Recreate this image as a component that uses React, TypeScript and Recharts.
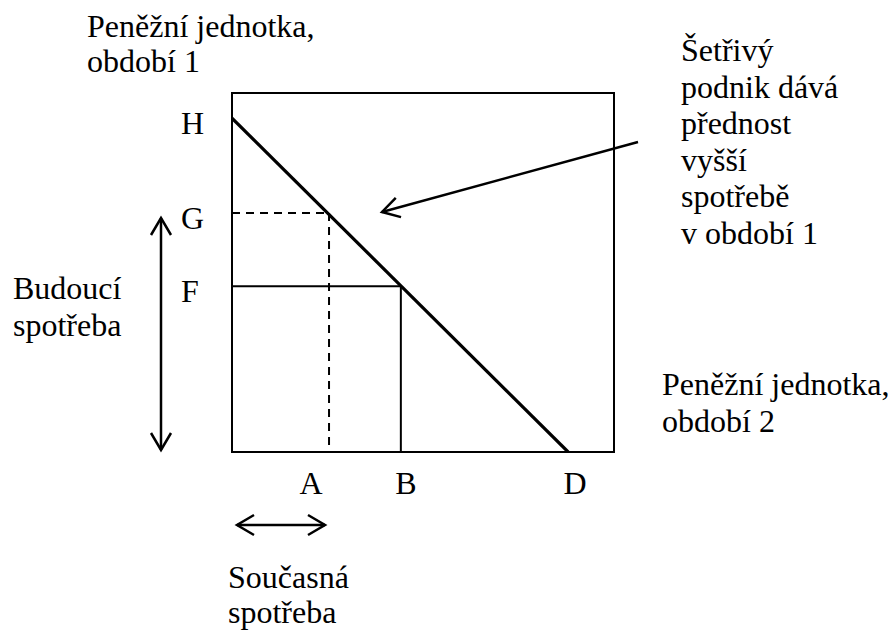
import { ComposedChart, XAxis, YAxis, ReferenceArea, ReferenceLine, Line } from "recharts";

// budget line from H (y axis) to D (x axis), in money units
const budgetLine = [
  { x: 0, y: 93 },
  { x: 88, y: 0 },
];

// x-axis points A, B, D and y-axis points F, G, H
const xPoints = [25.4, 44.2, 88];
const xLabels = ["A", "B", "D"];
const yPoints = [46.2, 66.6, 93];
const yLabels = ["F", "G", "H"];

// the two consumption choices: dashed (A, G) and solid (B, F)
const dashedChoice = { x: xPoints[0], y: yPoints[1] };
const solidChoice = { x: xPoints[1], y: yPoints[0] };

const FONT = '"Liberation Serif", "Times New Roman", serif';
const FS = 32;

const xLabelShift: Record<string, number> = { A: -18, B: 5, D: 7 };

const XTick = (props: any) => {
  const { x, payload } = props;
  const i = xPoints.indexOf(payload.value);
  const label = xLabels[i] ?? "";
  return (
    <text x={x + (xLabelShift[label] ?? 0)} y={494} textAnchor="middle" style={{ fontFamily: FONT }} fontSize={FS} fill="#000">
      {label}
    </text>
  );
};

const YTick = (props: any) => {
  const { y, payload } = props;
  const i = yPoints.indexOf(payload.value);
  return (
    <text x={181} y={y + 16} textAnchor="start" style={{ fontFamily: FONT }} fontSize={FS} fill="#000">
      {yLabels[i] ?? ""}
    </text>
  );
};

const Lines = ({ x, y, lines, lh = 36.5 }: { x: number; y: number; lines: string[]; lh?: number }) => (
  <text x={x} y={y} style={{ fontFamily: FONT }} fontSize={FS} fill="#000">
    {lines.map((l, i) => (
      <tspan key={i} x={x} y={y + i * lh}>
        {l}
      </tspan>
    ))}
  </text>
);

const Chevron = ({ tip, dir }: { tip: [number, number]; dir: [number, number] }) => {
  // dir: unit vector pointing from tail to tip
  const [tx, ty] = tip;
  const [dx, dy] = dir;
  const len = 17;
  const w = 10;
  const bx = tx - dx * len;
  const by = ty - dy * len;
  const px = -dy;
  const py = dx;
  return (
    <polyline
      points={`${bx + px * w},${by + py * w} ${tx},${ty} ${bx - px * w},${by - py * w}`}
      fill="none"
      stroke="#000"
      strokeWidth={2.5}
    />
  );
};

export default function App() {
  const ax = 638, ay = 142, hx = 382, hy = 212;
  const al = Math.hypot(hx - ax, hy - ay);
  const adir: [number, number] = [(hx - ax) / al, (hy - ay) / al];

  return (
    <div style={{ position: "absolute", left: 0, top: 0, width: 888, height: 630, background: "#fff" }}>
      <ComposedChart
        width={888}
        height={630}
        data={budgetLine}
        margin={{ top: 93, right: 274, bottom: 128, left: 172 }}
      >
        <XAxis
          type="number"
          dataKey="x"
          domain={[0, 100]}
          ticks={xPoints}
          axisLine={false}
          tickLine={false}
          height={50}
          tick={<XTick />}
          interval={0}
          allowDataOverflow
        />
        <YAxis
          type="number"
          dataKey="y"
          domain={[0, 100]}
          ticks={yPoints}
          axisLine={false}
          tickLine={false}
          width={60}
          tick={<YTick />}
          interval={0}
          allowDataOverflow
        />
        <ReferenceArea x1={0} x2={100} y1={0} y2={100} fill="none" fillOpacity={0} stroke="#000" strokeWidth={2} strokeOpacity={1} ifOverflow="visible" />
        <ReferenceLine
          segment={[{ x: 0, y: dashedChoice.y }, dashedChoice]}
          stroke="#000"
          strokeWidth={2}
          strokeDasharray="8 6"
        />
        <ReferenceLine
          segment={[dashedChoice, { x: dashedChoice.x, y: 0 }]}
          stroke="#000"
          strokeWidth={2}
          strokeDasharray="8 6"
        />
        <ReferenceLine segment={[{ x: 0, y: solidChoice.y }, solidChoice]} stroke="#000" strokeWidth={2} />
        <ReferenceLine segment={[solidChoice, { x: solidChoice.x, y: 0 }]} stroke="#000" strokeWidth={2} />
        <Line
          type="linear"
          dataKey="y"
          stroke="#000"
          strokeWidth={3.2}
          dot={false}
          activeDot={false}
          isAnimationActive={false}
        />
      </ComposedChart>

      <svg width={888} height={630} style={{ position: "absolute", left: 0, top: 0, pointerEvents: "none" }}>
        <Lines x={87} y={37} lines={["Peněžní jednotka,", "období 1"]} lh={35} />
        <Lines x={681} y={61} lines={["Šetřivý", "podnik dává", "přednost", "vyšší", "spotřebě", "v období 1"]} />
        <Lines x={13} y={299} lines={["Budoucí", "spotřeba"]} />
        <Lines x={662} y={395} lines={["Peněžní jednotka,", "období 2"]} lh={37} />
        <Lines x={228} y={588} lines={["Současná", "spotřeba"]} lh={35} />

        {/* vertical double arrow */}
        <line x1={161} y1={218} x2={161} y2={450} stroke="#000" strokeWidth={2.5} />
        <Chevron tip={[161, 218]} dir={[0, -1]} />
        <Chevron tip={[161, 450]} dir={[0, 1]} />

        {/* horizontal double arrow */}
        <line x1={237} y1={525} x2={325} y2={525} stroke="#000" strokeWidth={2.5} />
        <Chevron tip={[237, 525]} dir={[-1, 0]} />
        <Chevron tip={[325, 525]} dir={[1, 0]} />

        {/* annotation arrow */}
        <line x1={ax} y1={ay} x2={hx} y2={hy} stroke="#000" strokeWidth={2.5} />
        <Chevron tip={[hx, hy]} dir={adir} />
      </svg>
    </div>
  );
}
